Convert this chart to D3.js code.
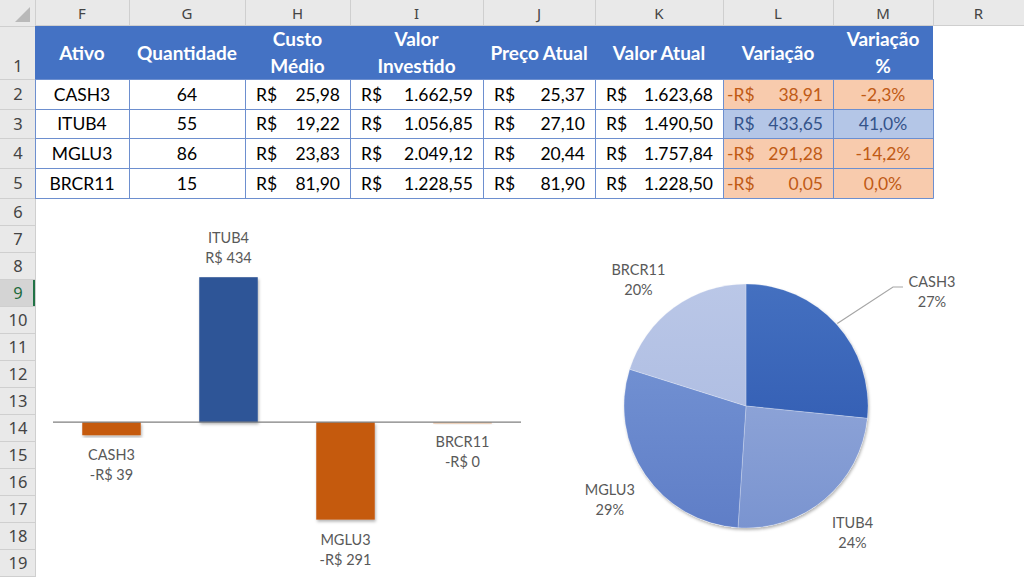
<!DOCTYPE html>
<meta charset="utf-8">
<style>
body { margin: 0; background: #fff; }
svg { display: block; }
</style>
<svg width="1024" height="577"></svg>
<script src="https://d3js.org/d3.v7.min.js"></script>
<script>

var ativos = ["CASH3", "ITUB4", "MGLU3", "BRCR11"];
var quantidade = [64, 55, 86, 15];
var custoMedio = [25.98, 19.22, 23.83, 81.90];
var valorInvestido = [1662.59, 1056.85, 2049.12, 1228.55];
var precoAtual = [25.37, 27.10, 20.44, 81.90];
var valorAtual = [1623.68, 1490.50, 1757.84, 1228.50];
var variacao = [-38.91, 433.65, -291.28, -0.05];
var variacaoPct = [-0.023, 0.410, -0.142, 0.000];

var colLetters = ["F", "G", "H", "I", "J", "K", "L", "M", "R"];
var headers = [["Ativo"], ["Quantidade"], ["Custo", "Médio"], ["Valor", "Investido"],
  ["Preço Atual"], ["Valor Atual"], ["Variação"], ["Variação", "%"]];

// sheet layout
var colEdges = [35, 129, 245, 350, 483, 595, 723, 833, 933, 1024];
var rowEdges = [26, 79, 109, 138, 168, 198, 225, 252, 279, 306, 333, 360, 387, 414, 441, 468, 495, 522, 549, 576];

var br = d3.formatLocale({decimal: ",", thousands: ".", grouping: [3], currency: ["R$", ""], minus: "-"});
var num2 = br.format(",.2f"), pct1 = br.format(".1%");

var svg = d3.select("svg");
var cellFont = "Lato, 'Noto Sans', sans-serif";

// ---------- excel chrome ----------
svg.append("rect").attr("width", 1024).attr("height", 26).attr("fill", "#e9e9e9");
svg.append("rect").attr("width", 35).attr("height", 577).attr("fill", "#e9e9e9");
svg.append("path").attr("d", "M30,7 L30,22 L15,22 Z").attr("fill", "#b9b9b9");

svg.append("g").selectAll("line").data(colEdges.slice(0, -1))
  .enter().append("line")
    .attr("x1", function(d) { return d + 0.5; }).attr("x2", function(d) { return d + 0.5; })
    .attr("y1", 0).attr("y2", 26).attr("stroke", "#cfcfcf");
svg.append("g").selectAll("text").data(colLetters)
  .enter().append("text")
    .attr("x", function(d, i) { return (colEdges[i] + colEdges[i + 1]) / 2 + (i == 8 ? 0 : 0); })
    .attr("y", 19)
    .attr("text-anchor", "middle")
    .attr("font-family", "'Noto Sans', sans-serif").attr("font-size", 15).attr("fill", "#444")
    .text(function(d) { return d; });
svg.append("line").attr("x1", 35).attr("x2", 1024).attr("y1", 25.5).attr("y2", 25.5).attr("stroke", "#cfcfcf");

// selected row 9 header
svg.append("rect").attr("x", 0).attr("y", rowEdges[8]).attr("width", 35).attr("height", rowEdges[9] - rowEdges[8]).attr("fill", "#d4d4d4");
svg.append("rect").attr("x", 33).attr("y", rowEdges[8]).attr("width", 2).attr("height", rowEdges[9] - rowEdges[8]).attr("fill", "#217346");

svg.append("g").selectAll("line").data(rowEdges)
  .enter().append("line")
    .attr("x1", 0).attr("x2", 35)
    .attr("y1", function(d) { return d + 0.5; }).attr("y2", function(d) { return d + 0.5; })
    .attr("stroke", "#cfcfcf");
svg.append("line").attr("x1", 35.5).attr("x2", 35.5).attr("y1", 0).attr("y2", 577).attr("stroke", "#cfcfcf");
svg.append("g").selectAll("text").data(d3.range(1, 20))
  .enter().append("text")
    .attr("x", 18)
    .attr("y", function(d) { return d == 1 ? rowEdges[1] - 7 : (rowEdges[d - 1] + rowEdges[d]) / 2 + 6; })
    .attr("text-anchor", "middle")
    .attr("font-family", "'Noto Sans', sans-serif").attr("font-size", 16.5)
    .attr("fill", function(d) { return d == 9 ? "#1e6b3c" : "#444"; })
    .text(function(d) { return d; });

// ---------- table ----------
var table = svg.append("g");
table.append("rect").attr("x", colEdges[0]).attr("y", rowEdges[0])
  .attr("width", colEdges[8] - colEdges[0]).attr("height", rowEdges[1] - rowEdges[0]).attr("fill", "#4472c4");

headers.forEach(function(lines, c) {
  var cx = (colEdges[c] + colEdges[c + 1]) / 2;
  var t = table.append("text").attr("text-anchor", "middle")
    .attr("font-family", cellFont).attr("font-weight", "bold").attr("font-size", 19).attr("fill", "#fff");
  lines.forEach(function(s, k) {
    var y = lines.length == 1 ? 60 : (k == 0 ? 46 : 73);
    t.append("tspan").attr("x", cx).attr("y", y).text(s);
  });
});

var rows = ativos.map(function(a, i) {
  return {i: i, cells: [
    {center: a}, {center: String(quantidade[i])},
    {left: "R$", right: num2(custoMedio[i])},
    {left: "R$", right: num2(valorInvestido[i])},
    {left: "R$", right: num2(precoAtual[i])},
    {left: "R$", right: num2(valorAtual[i])},
    {left: "R$", neg: variacao[i] < 0, right: num2(Math.abs(variacao[i]))},
    {center: pct1(variacaoPct[i])}
  ]};
});

rows.forEach(function(r) {
  var y0 = rowEdges[r.i + 1], y1 = rowEdges[r.i + 2];
  var pos = variacao[r.i] > 0;
  r.cells.forEach(function(c, k) {
    var x0 = colEdges[k], x1 = colEdges[k + 1];
    var fill = k >= 6 ? (pos ? "#b4c6e7" : "#f8cbad") : "#fff";
    var ink = k >= 6 ? (pos ? "#34538a" : "#c05a15") : "#000";
    table.append("rect").attr("x", x0).attr("y", y0).attr("width", x1 - x0).attr("height", y1 - y0).attr("fill", fill);
    var ty = (y0 + y1) / 2 + 6.5;
    var txt = function(x, anchor) {
      return table.append("text").attr("x", x).attr("y", ty).attr("text-anchor", anchor)
        .attr("font-family", cellFont).attr("font-size", 17.5).attr("fill", ink);
    };
    if (c.center != null) txt((x0 + x1) / 2, "middle").text(c.center);
    if (c.left != null) {
      var t = txt(x0 + (k == 6 ? 4 : 11), "start");
      if (k == 6) t.append("tspan").attr("fill-opacity", c.neg ? 1 : 0).text("-");
      t.append("tspan").text(c.left);
    }
    if (c.right != null) txt(x1 - 10, "end").text(c.right);
  });
});

// table grid lines
var gridColor = "#6d8fcf";
table.append("g").selectAll("line").data(colEdges.slice(0, 9))
  .enter().append("line")
    .attr("x1", function(d) { return d + 0.5; }).attr("x2", function(d) { return d + 0.5; })
    .attr("y1", rowEdges[1]).attr("y2", rowEdges[5] + 0.5).attr("stroke", gridColor);
table.append("g").selectAll("line").data(rowEdges.slice(1, 6))
  .enter().append("line")
    .attr("x1", colEdges[0]).attr("x2", colEdges[8] + 0.5)
    .attr("y1", function(d) { return d + 0.5; }).attr("y2", function(d) { return d + 0.5; })
    .attr("stroke", gridColor);

// ---------- bar chart of Variação ----------
var defs = svg.append("defs");
var shadow = defs.append("filter").attr("id", "shadow").attr("x", "-20%").attr("y", "-20%").attr("width", "140%").attr("height", "140%");
shadow.append("feDropShadow").attr("dx", 1).attr("dy", 2).attr("stdDeviation", 1.6)
  .attr("flood-color", "#000").attr("flood-opacity", 0.3);

var x = d3.scaleBand().domain(ativos).range([53, 521]).paddingInner(0.5).paddingOuter(0.25);
var y = d3.scaleLinear().domain([-400, 500]).range([556, 255]);

var bars = svg.append("g");
bars.selectAll("rect").data(variacao)
  .enter().append("rect")
    .attr("x", function(d, i) { return x(ativos[i]); })
    .attr("y", function(d) { return y(Math.max(0, d)); })
    .attr("width", x.bandwidth())
    .attr("height", function(d) { return Math.max(1.5, Math.abs(y(d) - y(0))); })
    .attr("fill", function(d) { return d > 0 ? "#2f5597" : "#c55a11"; })
    .attr("fill-opacity", function(d) { return Math.abs(d) < 1 ? 0.35 : 1; })
    .attr("filter", "url(#shadow)");

bars.append("line").attr("x1", 53).attr("x2", 521).attr("y1", y(0)).attr("y2", y(0))
  .attr("stroke", "#7f7f7f").attr("stroke-width", 1.2);

bars.selectAll("text").data(variacao)
  .enter().append("text")
    .attr("text-anchor", "middle")
    .attr("font-family", cellFont).attr("font-size", 14.5).attr("fill", "#595959")
    .each(function(d, i) {
      var cx = x(ativos[i]) + x.bandwidth() / 2;
      var y1 = d > 0 ? y(d) - 34 : y(Math.min(0, d)) + 25;
      var t = d3.select(this);
      t.append("tspan").attr("x", cx).attr("y", y1).text(ativos[i]);
      t.append("tspan").attr("x", cx).attr("y", y1 + 20)
        .text((d < 0 ? "-" : "") + "R$ " + Math.round(Math.abs(d)));
    });

// ---------- pie chart of Valor Atual ----------
var pieCx = 746, pieCy = 406, pieR = 122;
var pieColors = [["#4470c0", "#2a54ad"], ["#9db0dd", "#7a94d0"], ["#7a99d7", "#5f7ec7"], ["#bac7e7", "#a6b6df"]];

pieColors.forEach(function(c, i) {
  var g = defs.append("linearGradient").attr("id", "pg" + i)
    .attr("gradientUnits", "userSpaceOnUse")
    .attr("x1", 0).attr("y1", -pieR).attr("x2", 0).attr("y2", pieR);
  g.append("stop").attr("offset", 0).attr("stop-color", c[0]);
  g.append("stop").attr("offset", 1).attr("stop-color", c[1]);
});

var total = d3.sum(valorAtual);
var arcs = d3.pie().sort(null)(valorAtual);
var arc = d3.arc().innerRadius(0).outerRadius(pieR);
var labelArc = d3.arc().innerRadius(165).outerRadius(165);

var pie = svg.append("g").attr("transform", "translate(" + pieCx + "," + pieCy + ")");
pie.append("circle").attr("r", pieR).attr("fill", "#fff").attr("filter", "url(#shadow)");
pie.selectAll("path").data(arcs)
  .enter().append("path")
    .attr("d", arc)
    .attr("fill", function(d, i) { return "url(#pg" + i + ")"; })
    .attr("stroke", "#fff").attr("stroke-width", 0.4).attr("stroke-opacity", 0.6);

// CASH3 label was dragged out, with a leader line
var labelShift = [[186, -115], [0, 0], [0, 0], [-10, 6]];
pie.selectAll("text").data(arcs)
  .enter().append("text")
    .attr("text-anchor", "middle")
    .attr("font-family", cellFont).attr("font-size", 14.5).attr("fill", "#595959")
    .each(function(d, i) {
      var c = labelArc.centroid(d);
      if (i == 0) c = labelShift[0];
      else c = [c[0] + labelShift[i][0], c[1] + labelShift[i][1]];
      var t = d3.select(this);
      t.append("tspan").attr("x", c[0]).attr("y", c[1] - 4).text(ativos[i]);
      t.append("tspan").attr("x", c[0]).attr("y", c[1] + 16).text(Math.round(valorAtual[i] / total * 100) + "%");
    });

var a0 = (arcs[0].startAngle + arcs[0].endAngle) / 2;
var p0 = [Math.sin(a0) * (pieR + 1), -Math.cos(a0) * (pieR + 1)];
pie.append("polyline")
  .attr("points", [p0, [147, -119], [157, -119]].map(function(p) { return p.join(","); }).join(" "))
  .attr("fill", "none").attr("stroke", "#a6a6a6").attr("stroke-width", 1.2);

</script>
